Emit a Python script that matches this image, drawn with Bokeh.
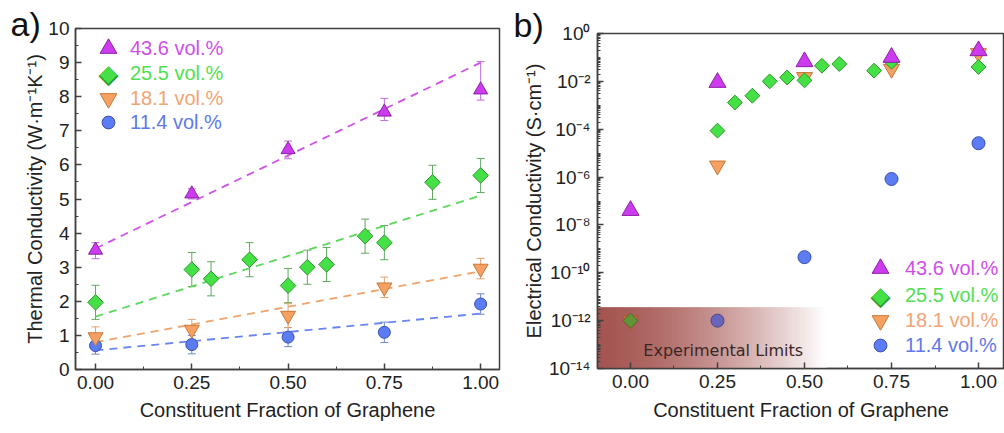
import numpy as np
from bokeh.plotting import figure
from bokeh.models import (ColumnDataSource, Whisker, TeeHead, Legend, LegendItem, Label,
                          FixedTicker, Range1d, CustomJSTickFormatter)
from bokeh.layouts import row
from bokeh.embed import file_html
from bokeh.resources import INLINE

# ---------------- series names ----------------
series_labels = ["43.6 vol.%", "25.5 vol.%", "18.1 vol.%", "11.4 vol.%"]

# ---------------- panel a: thermal conductivity ----------------
frac5 = [0.0, 0.25, 0.50, 0.75, 1.00]
k_436 = [3.50, 5.15, 6.45, 7.55, 8.20]
k_436_lo = [3.25, 5.00, 6.18, 7.30, 7.90]
k_436_hi = [3.72, 5.30, 6.70, 7.95, 9.03]

frac_255 = [0.0, 0.25, 0.30, 0.40, 0.50, 0.55, 0.60, 0.70, 0.75, 0.875, 1.00]
k_255 = [1.97, 2.93, 2.66, 3.22, 2.46, 3.00, 3.08, 3.91, 3.72, 5.49, 5.69]
k_255_err = [0.50, 0.50, 0.50, 0.50, 0.50, 0.50, 0.50, 0.50, 0.50, 0.50, 0.50]

k_181 = [0.95, 1.17, 1.58, 2.41, 2.96]
k_181_err = [0.30, 0.30, 0.35, 0.30, 0.30]

k_114 = [0.70, 0.73, 0.95, 1.09, 1.92]
k_114_err = [0.25, 0.27, 0.28, 0.30, 0.30]

fit_x = [0.0, 1.0]
fit_436 = [3.55, 9.00]
fit_255 = [1.55, 5.10]
fit_181 = [0.80, 2.88]
fit_114 = [0.56, 1.64]

a_xticks = [0.0, 0.25, 0.50, 0.75, 1.00]
a_yticks = [0, 1, 2, 3, 4, 5, 6, 7, 8, 9, 10]

# ---------------- panel b: electrical conductivity ----------------
s_x436 = [0.0, 0.25, 0.50, 0.75, 1.00]
s_436 = [4.0e-8, 9.0e-3, 6.6e-2, 1.0e-1, 1.9e-1]
s_x255 = [0.0, 0.25, 0.30, 0.35, 0.40, 0.45, 0.50, 0.55, 0.60, 0.70, 0.75, 1.00]
s_255 = [1.0e-12, 8.7e-5, 1.3e-3, 2.5e-3, 1.0e-2, 1.45e-2, 1.1e-2, 4.5e-2, 5.3e-2, 2.8e-2, 6.6e-2, 4.0e-2]
s_x181 = [0.0, 0.25, 0.50, 0.75, 1.00]
s_181 = [1.0e-12, 3.0e-6, 1.5e-2, 3.3e-2, 1.5e-1]
s_x114 = [0.25, 0.50, 0.75, 1.00]
s_114 = [1.0e-12, 4.5e-10, 8.3e-7, 2.6e-5]

b_yexp = [-14, -12, -10, -8, -6, -4, -2, 0]
limit_top = 3.6e-12
limit_text = "Experimental Limits"

# ---------------- styles ----------------
FONT = "Liberation Sans"
fills = ["#cc3bee", "#45e045", "#f5a163", "#5b7cf3"]
edges = ["#8e1fa8", "#2a9a2a", "#c87838", "#3a4fb0"]
fitc = ["#d052ea", "#5ad85a", "#f0a36a", "#6a86ee"]
errc = ["#c070d8", "#60a860", "#e0a070", "#7088d0"]
textc = ["#cf4eea", "#52e052", "#f2a474", "#5f78ea"]
band_rgb = (139, 37, 32)
g_left, g_right = -0.0948, 0.56


def band_total(x):
    s = min(max((x - g_left) / (g_right - g_left), 0.0), 1.0)
    return 0.78 * (1 - s ** 1.5)


def blend(hexcol, a):
    rgb = [int(hexcol[i:i + 2], 16) for i in (1, 3, 5)]
    return "#%02x%02x%02x" % tuple(int(round(c + a * (b - c))) for c, b in zip(rgb, band_rgb))


def tinted(xs, ys, col):
    # points lying under the translucent experimental-limit band look tinted by it
    return [blend(col, 0.55 * band_total(x)) if y <= limit_top else col for x, y in zip(xs, ys)]


def style(p):
    for ax in p.axis:
        ax.axis_line_color = "#404040"
        ax.axis_line_width = 1.5
        ax.major_tick_line_color = "#404040"
        ax.minor_tick_line_color = "#404040"
        ax.major_tick_line_width = 1.5
        ax.major_tick_in = 6
        ax.major_tick_out = 0
        ax.minor_tick_in = 3
        ax.minor_tick_out = 0
        ax.major_label_text_font = FONT
        ax.major_label_text_font_size = "19px"
        ax.major_label_text_color = "#222222"
        ax.axis_label_text_font = FONT
        ax.axis_label_text_font_size = "20px"
        ax.axis_label_text_font_style = "normal"
        ax.axis_label_text_color = "#222222"
    p.xgrid.visible = False
    p.ygrid.visible = False
    p.outline_line_color = "#404040"
    p.outline_line_width = 1.5
    p.outline_line_alpha = 1
    p.background_fill_color = "white"
    p.border_fill_color = "white"
    try:
        p.frame_align = False
    except Exception:
        pass


def panel_tag(p, text, offset, standoff):
    p.title.text = text
    p.title.align = "left"
    p.title.offset = offset
    p.title.standoff = standoff
    p.title.vertical_align = "bottom"
    p.title.text_font = FONT
    p.title.text_font_size = "34px"
    p.title.text_font_style = "normal"
    p.title.text_color = "#111111"


def add_key(p, rends, i, gsize, loc, standoff, index=None):
    leg = Legend(items=[LegendItem(label=series_labels[i], renderers=rends, index=index)],
                 location=loc, glyph_width=gsize, glyph_height=gsize,
                 label_standoff=standoff, label_text_font=FONT,
                 label_text_font_size="20px", label_text_color=textc[i],
                 padding=0, margin=0, spacing=0, border_line_alpha=0,
                 background_fill_alpha=0, inactive_fill_alpha=0)
    p.add_layout(leg)


def canvas_label(p, x, y, text, **kw):
    try:
        lab = Label(x=x, y=y, x_units="canvas", y_units="canvas", text=text, **kw)
    except ValueError:
        lab = Label(x=x, y=p.height - y, x_units="screen", y_units="screen", text=text, **kw)
    p.add_layout(lab)


def diamond_key(p, cx, cy):
    canvas_label(p, cx, cy, "\u25c6", text_font="DejaVu Sans", text_font_size="26px",
                 text_color=edges[1], text_align="center", text_baseline="middle")
    canvas_label(p, cx, cy, "\u25c6", text_font="DejaVu Sans", text_font_size="22px",
                 text_color=fills[1], text_align="center", text_baseline="middle")


def whisk(p, x, lo, hi, i):
    src = ColumnDataSource(dict(x=x, lo=lo, hi=hi))
    w = Whisker(base="x", lower="lo", upper="hi", source=src, line_color=errc[i], line_width=1,
                upper_head=TeeHead(size=8, line_color=errc[i], line_width=1),
                lower_head=TeeHead(size=8, line_color=errc[i], line_width=1), level="underlay")
    p.add_layout(w)


# ================= panel a =================
p1 = figure(width=508, height=433, x_range=Range1d(-0.052, 1.049), y_range=Range1d(0, 10),
            output_backend="svg", toolbar_location=None,
            min_border_left=75, min_border_right=9, min_border_top=28, min_border_bottom=64,
            x_axis_label="Constituent Fraction of Graphene",
            y_axis_label="Thermal Conductivity (W\u00b7m\u207b\u00b9K\u207b\u00b9)")
style(p1)
panel_tag(p1, "a)", -65, -28)
p1.xaxis.ticker = FixedTicker(ticks=a_xticks, minor_ticks=[0.125, 0.375, 0.625, 0.875])
p1.xaxis.formatter = CustomJSTickFormatter(code="return tick.toFixed(2);")
p1.yaxis.ticker = FixedTicker(ticks=a_yticks, minor_ticks=[v + 0.5 for v in a_yticks[:-1]])
p1.xaxis.major_label_standoff = 6
p1.yaxis.major_label_standoff = 6
p1.xaxis.axis_label_standoff = 7
p1.yaxis.axis_label_standoff = -1

for fy, c in zip([fit_114, fit_181, fit_255, fit_436], [fitc[3], fitc[2], fitc[1], fitc[0]]):
    p1.line(fit_x, fy, line_color=c, line_width=1.8, line_dash="8 6")

whisk(p1, frac5, [v - e for v, e in zip(k_114, k_114_err)], [v + e for v, e in zip(k_114, k_114_err)], 3)
whisk(p1, frac5, [v - e for v, e in zip(k_181, k_181_err)], [v + e for v, e in zip(k_181, k_181_err)], 2)
whisk(p1, frac_255, [v - e for v, e in zip(k_255, k_255_err)], [v + e for v, e in zip(k_255, k_255_err)], 1)
whisk(p1, frac5, k_436_lo, k_436_hi, 0)

ra3 = p1.scatter(frac5, k_114, marker="circle", size=12, fill_color=fills[3], line_color=edges[3], line_width=1)
ra2 = p1.scatter(frac5, k_181, marker="inverted_triangle", size=15, fill_color=fills[2], line_color=edges[2], line_width=1)
ra1 = p1.scatter(frac_255, k_255, marker="square", angle=np.pi / 4, size=11, fill_color=fills[1], line_color=edges[1], line_width=1)
ra0 = p1.scatter(frac5, k_436, marker="triangle", size=14, fill_color=fills[0], line_color=edges[0], line_width=1)

add_key(p1, [ra0], 0, 42, (12, 300), 1)
add_key(p1, [], 1, 30, (18, 281), 7)
add_key(p1, [ra2], 2, 42, (12, 250), 1)
add_key(p1, [ra3], 3, 32, (17, 231), 6)
diamond_key(p1, 108, 73)

# ================= panel b =================
p2 = figure(width=496, height=433, y_axis_type="log",
            x_range=Range1d(-0.0948, 1.0747), y_range=Range1d(1e-14, 1.0),
            output_backend="svg", toolbar_location=None,
            min_border_left=89, min_border_right=0, min_border_top=33, min_border_bottom=65,
            x_axis_label="Constituent Fraction of Graphene",
            y_axis_label="Electrical Conductivity (S\u00b7cm\u207b\u00b9)")
style(p2)
panel_tag(p2, "b)", -84, -20)
p2.xaxis.ticker = FixedTicker(ticks=a_xticks, minor_ticks=[0.125, 0.375, 0.625, 0.875])
p2.xaxis.formatter = CustomJSTickFormatter(code="return tick.toFixed(2);")
b_major = [10.0 ** e for e in b_yexp]
b_minor = [k * 10.0 ** e for e in range(-14, 0) for k in range(1, 10) if not (k == 1 and e % 2 == 0)]
p2.yaxis.ticker = FixedTicker(ticks=b_major, minor_ticks=b_minor)
p2.yaxis.formatter = CustomJSTickFormatter(code="""
const sup = {'-':'\\u207b','0':'\\u2070','1':'\\u00b9','2':'\\u00b2','3':'\\u00b3','4':'\\u2074',
             '5':'\\u2075','6':'\\u2076','7':'\\u2077','8':'\\u2078','9':'\\u2079'};
const e = Math.round(Math.log10(tick));
return '10' + String(e).split('').map(c => sup[c]).join('');
""")
p2.xaxis.major_label_standoff = 6
p2.yaxis.major_label_standoff = 7
p2.xaxis.axis_label_standoff = 8
p2.yaxis.axis_label_standoff = 1

# gradient band for the experimental limit: opaque colour strips (no stacked transparency)
n_strip = 90
g_edges = np.linspace(g_left, g_right, n_strip + 1)
mids = (g_edges[:-1] + g_edges[1:]) / 2
band_cols = [blend("#ffffff", band_total(x)) for x in mids]
p2.quad(left=list(g_edges[:-1]), right=list(g_edges[1:] + 0.004), bottom=[1e-14] * n_strip,
        top=[limit_top] * n_strip, fill_color=band_cols, line_color=None)

rb3 = p2.scatter(s_x114, s_114, marker="circle", size=13, fill_color=tinted(s_x114, s_114, fills[3]),
                 line_color=tinted(s_x114, s_114, edges[3]), line_width=1)
rb2 = p2.scatter(s_x181, s_181, marker="inverted_triangle", size=16, fill_color=tinted(s_x181, s_181, fills[2]),
                 line_color=tinted(s_x181, s_181, edges[2]), line_width=1)
rb1 = p2.scatter(s_x255, s_255, marker="square", angle=np.pi / 4, size=10.5, fill_color=tinted(s_x255, s_255, fills[1]),
                 line_color=tinted(s_x255, s_255, edges[1]), line_width=1)
rb0 = p2.scatter(s_x436, s_436, marker="triangle", size=17, fill_color=fills[0], line_color=edges[0], line_width=1)

p2.add_layout(Label(x=0.037, y=5.6e-14, text=limit_text, text_font="DejaVu Sans",
                    text_font_size="16px", text_color="#3b2626", text_baseline="alphabetic"))

add_key(p2, [rb0], 0, 42, (262, 79), 4)
add_key(p2, [], 1, 30, (268, 58), 10)
add_key(p2, [rb2], 2, 42, (262, 27), 4, index=1)
add_key(p2, [rb3], 3, 32, (267, 7), 9, index=1)
diamond_key(p2, 372, 295)

layout = row(p1, p2)
open("out.html", "w", encoding="utf-8").write(file_html(layout, INLINE))
